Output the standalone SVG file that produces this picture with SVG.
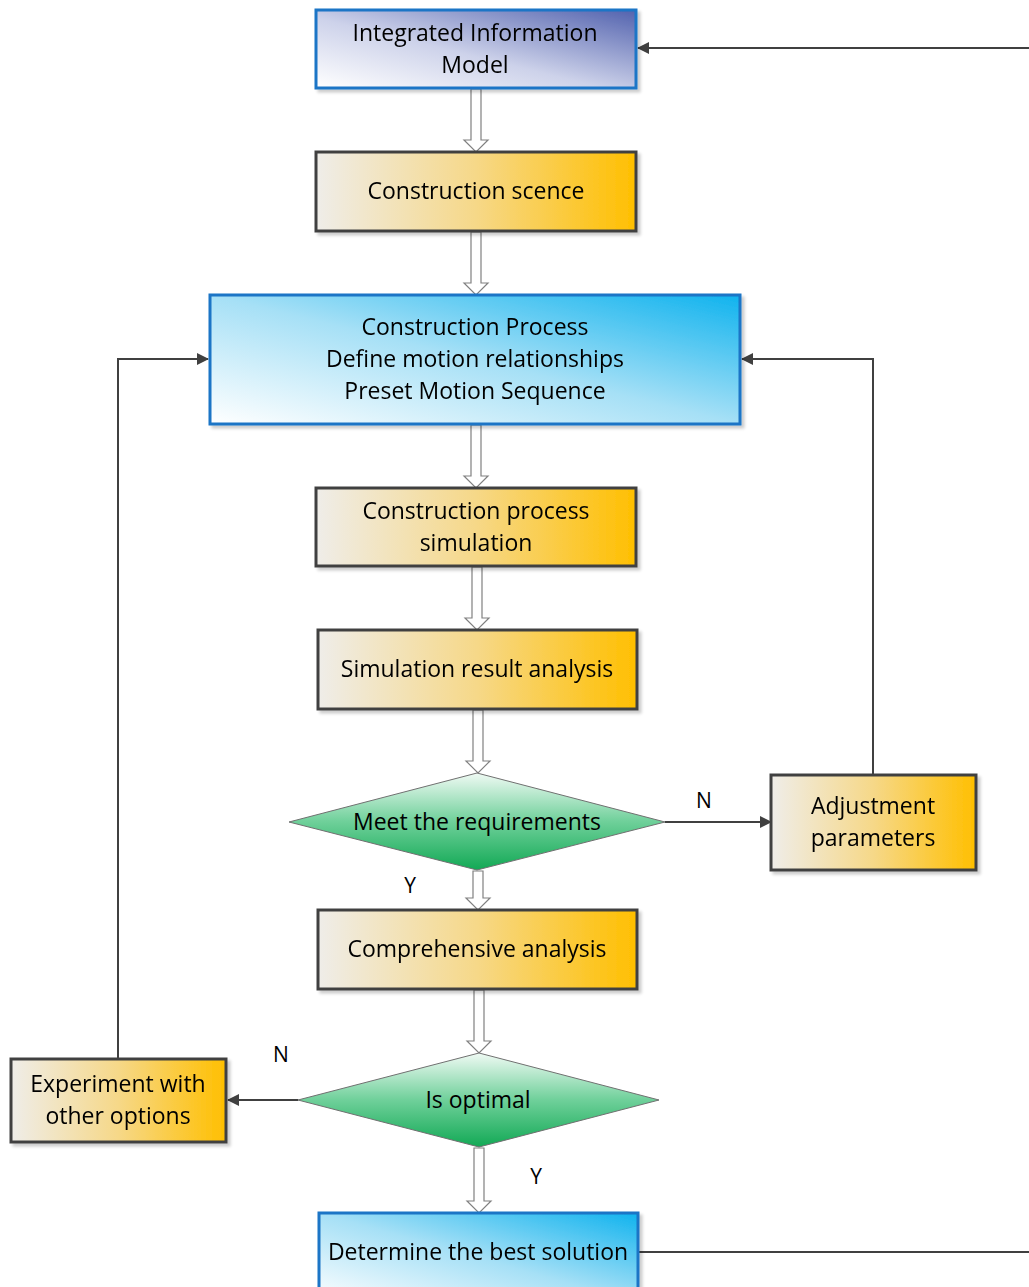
<svg xmlns="http://www.w3.org/2000/svg" width="1029" height="1287" viewBox="0 0 1029 1287">
<defs>
<linearGradient id="gOrange" x1="0" y1="0" x2="1" y2="0">
<stop offset="0" stop-color="#efede9"/>
<stop offset="0.5" stop-color="#f6d888"/>
<stop offset="1" stop-color="#ffbf00"/>
</linearGradient>
<linearGradient id="gNavy" x1="0" y1="1" x2="1" y2="0">
<stop offset="0" stop-color="#ffffff"/>
<stop offset="0.45" stop-color="#cdd2ea"/>
<stop offset="1" stop-color="#5262ae"/>
</linearGradient>
<linearGradient id="gSky" x1="0" y1="1" x2="1" y2="0">
<stop offset="0" stop-color="#ffffff"/>
<stop offset="0.5" stop-color="#a6e0f6"/>
<stop offset="1" stop-color="#10b3ee"/>
</linearGradient>
<linearGradient id="gGreen" x1="0" y1="0" x2="0" y2="1">
<stop offset="0" stop-color="#f0faf4"/>
<stop offset="0.5" stop-color="#6fd09a"/>
<stop offset="1" stop-color="#12a955"/>
</linearGradient>
<marker id="arr" markerWidth="12" markerHeight="12" refX="11" refY="6" orient="auto" markerUnits="userSpaceOnUse">
<path d="M0,0 L12,6 L0,12 Z" fill="#404040"/>
</marker>
<filter id="sh" x="-5%" y="-5%" width="115%" height="120%">
<feDropShadow dx="3" dy="3" stdDeviation="1.5" flood-color="#000" flood-opacity="0.2"/>
</filter>
</defs>
<style>
text{font-family:"Open Sans","Liberation Sans",sans-serif;font-size:23px;fill:#000;text-anchor:middle}
.o{fill:url(#gOrange);stroke:#404040;stroke-width:3}
.b1{fill:url(#gNavy);stroke:#1a74c6;stroke-width:3}
.b2{fill:url(#gSky);stroke:#1a74c6;stroke-width:3}
.d{fill:url(#gGreen);stroke:#707070;stroke-width:1}
.ln{fill:none;stroke:#404040;stroke-width:2}
.blk{fill:#ffffff;stroke:#808080;stroke-width:1.2}
.lbl{font-size:21px}
</style>

<g id="connectors">
<path class="blk" d="M471,89 V140 H464 L476,152 L488,140 H481 V89 Z"/>
<path class="blk" d="M471,232 V283 H464 L476,295 L488,283 H481 V232 Z"/>
<path class="blk" d="M471,425 V476 H464 L476,488 L488,476 H481 V425 Z"/>
<path class="blk" d="M472,567 V618 H465 L477,630 L489,618 H482 V567 Z"/>
<path class="blk" d="M473,710 V761 H466 L478,773 L490,761 H483 V710 Z"/>
<path class="blk" d="M473,871 V898 H466 L478,910 L490,898 H483 V871 Z"/>
<path class="blk" d="M474,990 V1041 H467 L479,1053 L491,1041 H484 V990 Z"/>
<path class="blk" d="M474,1148 V1201 H467 L479,1213 L491,1201 H484 V1148 Z"/>
<path class="ln" d="M639,1252 H1029"/>
<path class="ln" d="M1029,48 H638" marker-end="url(#arr)"/>
<path class="ln" d="M665,822 H771" marker-end="url(#arr)"/>
<path class="ln" d="M873,775 V359 H742" marker-end="url(#arr)"/>
<path class="ln" d="M298,1100 H228" marker-end="url(#arr)"/>
<path class="ln" d="M118,1059 V359 H208" marker-end="url(#arr)"/>
<text class="lbl" x="704" y="808">N</text>
<text class="lbl" x="410" y="893">Y</text>
<text class="lbl" x="281" y="1062">N</text>
<text class="lbl" x="536" y="1184">Y</text>
</g>

<g id="n1" filter="url(#sh)">
<rect class="b1" x="316" y="10" width="320" height="78"/>
<text x="475" y="41">Integrated Information</text>
<text x="475" y="73">Model</text>
</g>
<g id="n2" filter="url(#sh)">
<rect class="o" x="316" y="152" width="320" height="79"/>
<text x="476" y="199">Construction scence</text>
</g>
<g id="n3" filter="url(#sh)">
<rect class="b2" x="210" y="295" width="530" height="129"/>
<text x="475" y="335">Construction Process</text>
<text x="475" y="367">Define motion relationships</text>
<text x="475" y="399">Preset Motion Sequence</text>
</g>
<g id="n4" filter="url(#sh)">
<rect class="o" x="316" y="488" width="320" height="78"/>
<text x="476" y="519">Construction process</text>
<text x="476" y="551">simulation</text>
</g>
<g id="n5" filter="url(#sh)">
<rect class="o" x="318" y="630" width="319" height="79"/>
<text x="477" y="677">Simulation result analysis</text>
</g>
<g id="n6">
<polygon class="d" points="477,773 665,822 477,870 289,822"/>
<text x="477" y="830">Meet the requirements</text>
</g>
<g id="n7" filter="url(#sh)">
<rect class="o" x="771" y="775" width="205" height="95"/>
<text x="873" y="814">Adjustment</text>
<text x="873" y="846">parameters</text>
</g>
<g id="n8" filter="url(#sh)">
<rect class="o" x="318" y="910" width="319" height="79"/>
<text x="477" y="957">Comprehensive analysis</text>
</g>
<g id="n9">
<polygon class="d" points="479,1053 659,1100 479,1147 298,1100"/>
<text x="478" y="1108">Is optimal</text>
</g>
<g id="n10" filter="url(#sh)">
<rect class="o" x="11" y="1059" width="215" height="83"/>
<text x="118" y="1092">Experiment with</text>
<text x="118" y="1124">other options</text>
</g>
<g id="n11" filter="url(#sh)">
<rect class="b2" x="319" y="1213" width="319" height="90"/>
<text x="478" y="1260">Determine the best solution</text>
</g>
</svg>
